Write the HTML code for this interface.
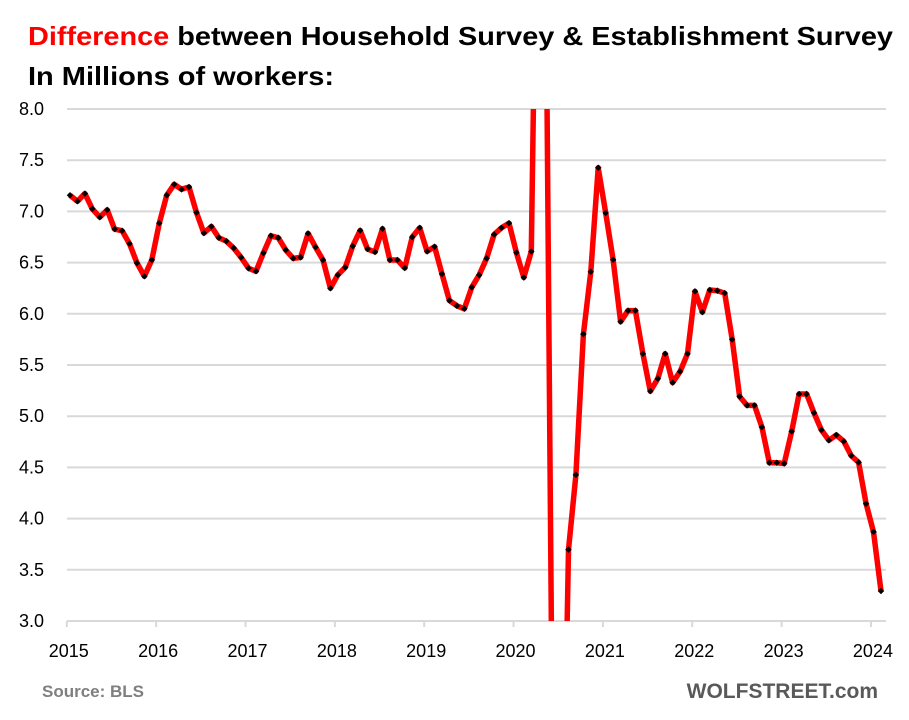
<!DOCTYPE html>
<html><head><meta charset="utf-8"><style>
html,body{margin:0;padding:0;background:#fff;width:909px;height:720px;overflow:hidden;position:relative;}
svg{position:absolute;left:0;top:0;display:block;font-family:"Liberation Sans",Arial,sans-serif;}
</style>
<script>
document.addEventListener("DOMContentLoaded",function(){
var NS="http://www.w3.org/2000/svg";
function el(p,t,a,txt){var e=document.createElementNS(NS,t);for(var k in a)e.setAttribute(k,a[k]);if(txt!=null)e.textContent=txt;document.getElementById(p).appendChild(e);return e;}
for(var i=0;i<=10;i++){var y=109+i*51.2;el("grid","line",{x1:67,x2:886,y1:y,y2:y});el("ylab","text",{x:44,y:y+6},(8-i*0.5).toFixed(1));}
for(var k=0;k<10;k++){var x=66.8+89.35*k;el("xt","line",{x1:x,x2:x,y1:621,y2:627});el("xlab","text",{x:x+2,y:657},String(2015+k));}
var z1=[288,306,283,329,354,332,390,395,434,492,532,483,372,288,255,270,263,340,402,382,416,426,447,475,508,517,462,410,416,453,478,475,403,444,483,568,528,505,441,394,450,459,389,483,483,507,414,386,457,443,525,605,621,630,565,528,478,406,386,372];
var z2=[1262,1052,657,482,190,317,448,622,591,591,712,817,782,712,793,762,712,537,595,533,535,542,672,832,857,857,918,1018,1018,1020,930,825,825,878,926,955,940,958,998,1017,1133,1212,1378];
var P=[];
z1.forEach(function(p,i){P.push([70+7.44*i,109+(p-28)/3.013,1]);});
[428,498,425].forEach(function(p,j){P.push([70+7.44*(60+j),109+(p-25)/2.807,1]);});
P.push([533.5,100,0],[547.0,100,0],[551.4,630,0],[567.0,630,0]);
z2.forEach(function(p,j){P.push([70+7.44*(67+j),109+(p-25)/2.807,1]);});
var pts=[];
P.forEach(function(q){var x=q[0],y=q[1];pts.push(x.toFixed(1)+","+y.toFixed(1));
 if(q[2]){el("mk","rect",{x:x-2.3,y:y-2.3,width:4.6,height:4.6,transform:"rotate(45 "+x+" "+y+")"});}});
document.getElementById("ln").setAttribute("points",pts.join(" "));
});
</script>
</head><body>
<svg id="c" width="909" height="720" viewBox="0 0 909 720" xmlns="http://www.w3.org/2000/svg">
<rect width="909" height="720" fill="#fff"/>
<text x="28" y="45" font-size="26" font-weight="bold" textLength="865" lengthAdjust="spacingAndGlyphs"><tspan fill="#ff0000">Difference</tspan><tspan fill="#000"> between Household Survey &amp; Establishment Survey</tspan></text>
<text x="28" y="85" font-size="26" font-weight="bold" fill="#000" textLength="306" lengthAdjust="spacingAndGlyphs">In Millions of workers:</text>
<g id="grid" stroke="#d9d9d9" stroke-width="2"></g>
<g id="ylab" font-size="18" fill="#000" text-anchor="end"></g>
<g id="xt" stroke="#d9d9d9" stroke-width="2"></g>
<g id="xlab" font-size="18" fill="#000" text-anchor="middle"></g>
<defs><clipPath id="cp"><rect x="60" y="109" width="830" height="512"/></clipPath></defs>
<g clip-path="url(#cp)">
<polyline id="ln" fill="none" stroke="#ff0000" stroke-width="5.5" stroke-linejoin="round"/>
<g id="mk" fill="#000"></g>
</g>
<text x="42" y="697" font-size="17" font-weight="bold" fill="#7f7f7f">Source: BLS</text>
<text x="878" y="698" font-size="21" font-weight="bold" fill="#595959" text-anchor="end">WOLFSTREET.com</text>
</svg>
</body></html>
